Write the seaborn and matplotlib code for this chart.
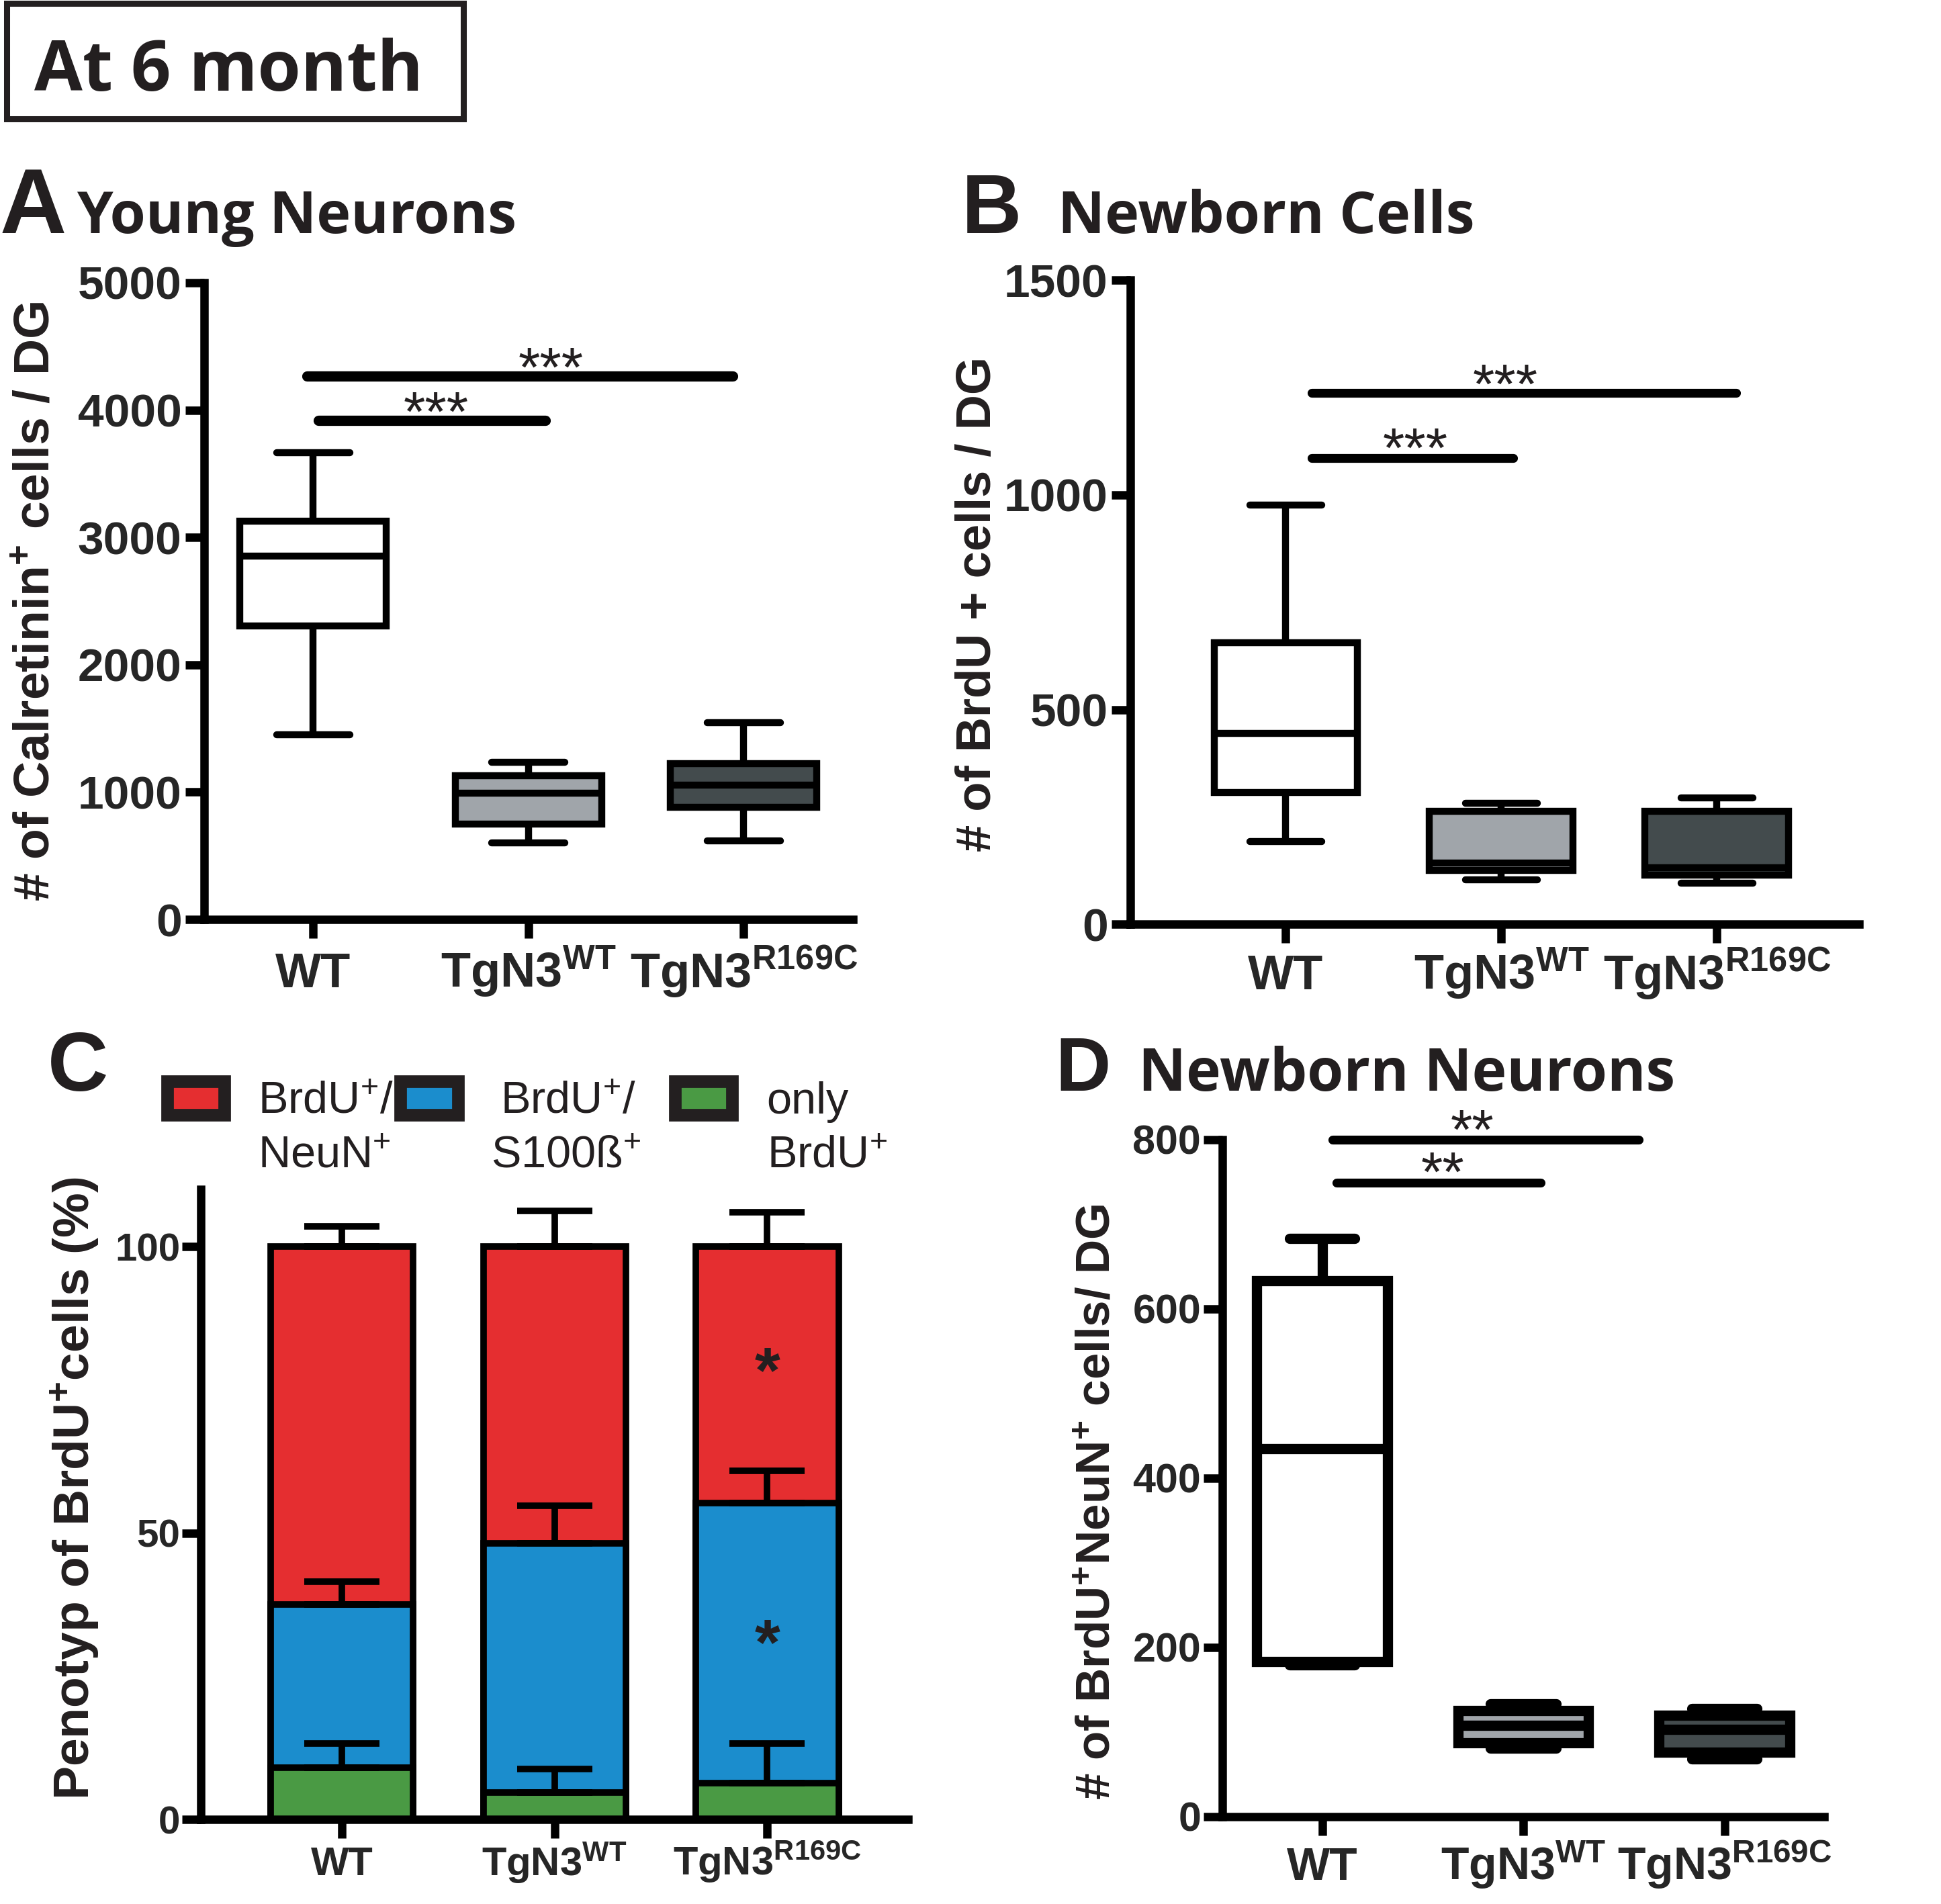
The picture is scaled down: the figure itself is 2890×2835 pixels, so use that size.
import numpy as np
import pandas as pd
import matplotlib
matplotlib.use('Agg')
import matplotlib.pyplot as plt
from matplotlib import font_manager
from matplotlib.patches import Rectangle
import seaborn as sns

groups = ['WT', 'TgN3WT', 'TgN3R169C']
tick_labels = ['WT', 'TgN3$^{WT}$', 'TgN3$^{R169C}$']
box_colors = ['#ffffff', '#a0a5aa', '#434b4d']

# box values: low whisker, q1, median, q3, high whisker
calret_wt = [1452, 2307, 2852, 3130, 3667]
calret_tgwt = [600, 748, 993, 1130, 1233]
calret_r169c = [619, 881, 1056, 1222, 1544]
calret_sig = [3919, 4267]

brdu_wt = [192, 307, 444, 655, 976]
brdu_tgwt = [104, 126, 143, 263, 282]
brdu_r169c = [96, 115, 132, 263, 294]
brdu_sig = [1086, 1237]

neun_wt = [179, 183, 435, 633, 683]
neun_tgwt = [81, 87, 108, 125, 133]
neun_r169c = [68, 76, 103, 120, 128]
neun_sig = [749, 800]

# panel C: phenotype of BrdU+ cells in %, mean and SEM
pheno_only = [9.0, 4.7, 6.3]
pheno_s100 = [28.5, 43.5, 49.0]
pheno_neun = [62.5, 51.8, 44.7]
pheno_only_err = [4.3, 4.1, 7.0]
pheno_s100_err = [4.0, 6.6, 5.6]
pheno_neun_err = [3.5, 6.3, 6.0]
pheno_colors = ['#e52e30', '#1b8dcd', '#4a9a44']

sns.set_theme(style='ticks')
plt.rcParams['font.family'] = ['Liberation Sans', 'DejaVu Sans']
installed = {f.name for f in font_manager.fontManager.ttflist}
sup_font = 'Liberation Sans Narrow' if 'Liberation Sans Narrow' in installed else 'Liberation Sans'
plt.rcParams['mathtext.fontset'] = 'custom'
plt.rcParams['mathtext.default'] = 'bf'
plt.rcParams['mathtext.rm'] = 'Liberation Sans'
plt.rcParams['mathtext.bf'] = sup_font + ':bold'
title_font = ['Open Sans', 'DejaVu Sans']
ink = '#231f20'

fig = plt.figure(figsize=(28.9, 28.35), dpi=100, facecolor='white')
axA = fig.add_axes([0.1052, 0.5171, 0.3343, 0.3344])
axB = fig.add_axes([0.5824, 0.5146, 0.3754, 0.3382])
axC = fig.add_axes([0.1035, 0.0444, 0.3644, 0.3309])
axD = fig.add_axes([0.6298, 0.0459, 0.3100, 0.3556])


def draw_boxes(ax, wt, tgwt, r169c, lw, width):
    df = pd.DataFrame({'group': np.repeat(groups, 5),
                       'value': np.concatenate([wt, tgwt, r169c])})
    sns.boxplot(data=df, x='group', y='value', hue='group', order=groups,
                hue_order=groups, palette=dict(zip(groups, box_colors)),
                saturation=1, whis=(0, 100), width=width, linewidth=lw,
                linecolor='black', legend=False, ax=ax)


def style_axes(ax, xlim, ylim, yticks, ysize, xsize, ypad, xpad):
    ax.set_xlim(*xlim)
    ax.set_ylim(*ylim)
    ax.set_yticks(yticks)
    ax.set_xticks(range(3))
    ax.set_xticklabels(tick_labels)
    ax.set_xlabel('')
    ax.set_ylabel('')
    sns.despine(ax=ax)
    for side in ['left', 'bottom']:
        ax.spines[side].set_linewidth(9)
        ax.spines[side].set_color('black')
    ax.tick_params(width=9, length=20, color='black', direction='out')
    ax.tick_params(axis='y', labelsize=ysize, pad=ypad)
    ax.tick_params(axis='x', labelsize=xsize, pad=xpad)
    for lbl in ax.get_yticklabels():
        lbl.set_fontweight('bold')
    for lbl in ax.get_xticklabels():
        lbl.set_fontweight('bold')
        lbl.set_va('baseline')


def sig_bar(ax, x0, x1, y, stars, sx, off, lw):
    ax.plot([x0, x1], [y, y], color='black', lw=lw, solid_capstyle='round',
            clip_on=False)
    ax.annotate(stars, xy=(sx, y), xytext=(0, -off), textcoords='offset points',
                ha='center', va='baseline', fontsize=60, color=ink,
                annotation_clip=False)


# A  Young neurons
draw_boxes(axA, calret_wt, calret_tgwt, calret_r169c, 7.5, 0.68)
style_axes(axA, (-0.506, 2.508), (0, 5000), range(0, 5001, 1000), 50, 52, 4, 53)
sig_bar(axA, 0.025, 1.08, calret_sig[0], '***', 0.571, 11, 11)
sig_bar(axA, -0.03, 1.95, calret_sig[1], '***', 1.104, 11, 11)

# B  Newborn cells
draw_boxes(axB, brdu_wt, brdu_tgwt, brdu_r169c, 7.5, 0.665)
style_axes(axB, (-0.72, 2.66), (0, 1500), [0, 500, 1000, 1500], 50, 52, 4, 50)
sig_bar(axB, 0.12, 1.055, brdu_sig[0], '***', 0.60, 10, 9.5)
sig_bar(axB, 0.12, 2.09, brdu_sig[1], '***', 1.02, 11, 9.5)

# C  stacked phenotype bars
stack_tops = [np.sum([pheno_only, pheno_s100, pheno_neun], axis=0),
              np.add(pheno_only, pheno_s100),
              np.array(pheno_only)]
stack_errs = [pheno_neun_err, pheno_s100_err, pheno_only_err]
for tops, col in zip(stack_tops, pheno_colors):
    sns.barplot(x=groups, y=tops, order=groups, color=col, saturation=1,
                width=0.67, edgecolor='black', linewidth=7, errorbar=None, ax=axC)
for tops, err in zip(stack_tops, stack_errs):
    axC.errorbar(range(3), tops, yerr=[np.zeros(3), err], fmt='none',
                 ecolor='black', elinewidth=7, capsize=40, capthick=7, zorder=5)
style_axes(axC, (-0.662, 2.662), (0, 110), [0, 50, 100], 42, 43, 2, 40)
for yv in [80.8, 33.3]:
    axC.annotate('*', xy=(2, yv), xytext=(0, -38), textcoords='offset points',
                 ha='center', va='baseline', fontsize=70, fontweight='bold',
                 color=ink)

# D  Newborn neurons
draw_boxes(axD, neun_wt, neun_tgwt, neun_r169c, 11, 0.65)
style_axes(axD, (-0.496, 2.496), (0, 800), range(0, 801, 200), 44, 49, 3, 48)
sig_bar(axD, 0.07, 1.085, neun_sig[0], '**', 0.60, 9, 9.5)
sig_bar(axD, 0.05, 1.575, neun_sig[1], '**', 0.745, 10, 9.5)

# y axis labels
fig.text(0.0187, 0.6843, '# of Calretinin$^{+}$ cells / DG', rotation=90,
         ha='center', va='center', fontsize=54, fontweight='bold', color=ink)
fig.text(0.5038, 0.6829, '# of BrdU + cells / DG', rotation=90,
         ha='center', va='center', fontsize=52, fontweight='bold', color=ink)
fig.text(0.0386, 0.2182, 'Penotyp of BrdU$^{+}$cells (%)', rotation=90,
         ha='center', va='center', fontsize=54, fontweight='bold', color=ink)
fig.text(0.5657, 0.2111, '# of BrdU$^{+}$NeuN$^{+}$ cells/ DG', rotation=90,
         ha='center', va='center', fontsize=51, fontweight='bold', color=ink)

# panel letters and titles
fig.add_artist(Rectangle((0.00329, 0.9374), 0.2356, 0.0610, transform=fig.transFigure,
                         facecolor='none', edgecolor=ink, linewidth=6.5))
fig.text(0.0178, 0.9524, 'At 6 month', fontsize=75, fontweight='bold',
         family=title_font, va='baseline', color=ink)
fig.text(0.0, 0.8776, 'A', fontsize=99, fontweight='bold', va='baseline', color=ink)
fig.text(0.0394, 0.8776, 'Young Neurons', fontsize=62, fontweight='bold',
         family=title_font, va='baseline', color=ink)
fig.text(0.4955, 0.8776, 'B', fontsize=89, fontweight='bold', va='baseline', color=ink)
fig.text(0.545, 0.8776, 'Newborn Cells', fontsize=62, fontweight='bold',
         family=title_font, va='baseline', color=ink)
fig.text(0.0246, 0.4272, 'C', fontsize=90, fontweight='bold', va='baseline', color=ink)
fig.text(0.5436, 0.4272, 'D', fontsize=82, fontweight='bold', va='baseline', color=ink)
fig.text(0.5865, 0.4272, 'Newborn Neurons', fontsize=63, fontweight='bold',
         family=title_font, va='baseline', color=ink)

# legend of panel C
legend_x = [0.0860, 0.2064, 0.3476]
legend_text_x = [0.1329, 0.2578, 0.3950]
legend_lines = [(r'BrdU$^{\mathregular{+}}$/', r'NeuN$^{\mathregular{+}}$'),
                (r'BrdU$^{\mathregular{+}}$/', r'S100ß$^{\mathregular{+}}$'),
                ('only', r'BrdU$^{\mathregular{+}}$')]
for lx, tx, col, (l1, l2) in zip(legend_x, legend_text_x, pheno_colors, legend_lines):
    fig.add_artist(Rectangle((lx, 0.4143), 0.0296, 0.01764, transform=fig.transFigure,
                             facecolor=col, edgecolor=ink, linewidth=13.5))
    fig.text(tx, 0.4152, l1, fontsize=48, va='baseline', color=ink)
    fig.text(tx - (0.005 if l2.startswith('S') else 0), 0.3866, l2, fontsize=48,
             va='baseline', color=ink)

fig.savefig('out.png', dpi=100, facecolor='white')
